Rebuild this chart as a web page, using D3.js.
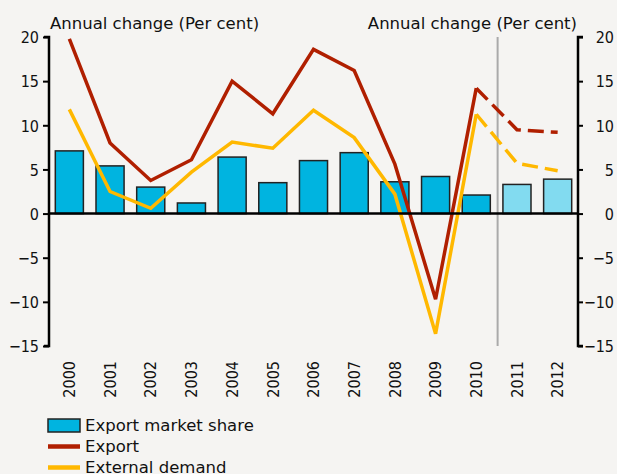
<!DOCTYPE html>
<html>
<head>
<meta charset="utf-8">
<script src="https://cdn.jsdelivr.net/npm/d3@7"></script>
<style>
  body { margin:0; background:#f5f4f2; }
  svg { display:block; font-family:"DejaVu Sans", sans-serif; }
  .num { font-family:"DejaVu Sans Condensed","DejaVu Sans",sans-serif; font-size:16px; fill:#111; }
</style>
</head>
<body>
<div id="chart"></div>
<script>
// data
var years=["2000","2001","2002","2003","2004","2005","2006","2007","2008","2009","2010","2011","2012"];
var marketShare=[7.1,5.4,3.0,1.2,6.4,3.5,6.0,6.9,3.6,4.2,2.1,3.3,3.9];
var exportGrowth=[19.8,8.0,3.75,6.1,15.0,11.3,18.6,16.2,5.6,-9.7,14.2,9.5,9.2];
var externalDemand=[11.8,2.5,0.6,4.7,8.1,7.4,11.7,8.6,2.2,-13.6,11.25,5.7,4.85];
var firstForecast="2011";
var yTicks=[-15,-10,-5,0,5,10,15,20];

var width=617, height=474;
var pLeft=49, pRight=578, pTop=37, pBottom=346;

var colBar="#00b4e0", colBarF="#82dbf0", colRed="#b01f00", colYel="#ffb800";

var svg=d3.select("#chart").append("svg")
    .attr("width",width)
    .attr("height",height);

svg.append("rect").attr("width",width).attr("height",height).attr("fill","#f5f4f2");

var x=d3.scaleBand().domain(years).range([pLeft,pRight]).paddingInner(0.31).paddingOuter(0.155);
var y=d3.scaleLinear().domain([-15,20]).range([pBottom,pTop]);
function cx(d){ return x(d)+x.bandwidth()/2; }

// bars
svg.append("g").selectAll("rect")
    .data(years)
    .enter()
    .append("rect")
    .attr("x",function(d){return x(d);})
    .attr("y",function(d,i){return y(Math.max(0,marketShare[i]));})
    .attr("width",x.bandwidth())
    .attr("height",function(d,i){return Math.abs(y(marketShare[i])-y(0));})
    .attr("fill",function(d){return (+d>=+firstForecast)?colBarF:colBar;})
    .attr("stroke","#222")
    .attr("stroke-width",1.5);

// forecast separator
var sepX=(cx("2010")+cx("2011"))/2+1;
svg.append("line")
    .attr("x1",sepX).attr("x2",sepX)
    .attr("y1",pTop).attr("y2",pBottom)
    .attr("stroke","#aaaaaa")
    .attr("stroke-width",2);

// lines
function drawSeries(vals,color){
    var pts=years.map(function(d,i){return [cx(d),y(vals[i])];});
    var cut=years.indexOf(firstForecast);
    var line=d3.line();
    svg.append("path")
        .attr("d",line(pts.slice(0,cut)))
        .attr("fill","none").attr("stroke",color)
        .attr("stroke-width",3.5).attr("stroke-linejoin","miter");
    svg.append("path")
        .attr("d",line(pts.slice(cut-1)))
        .attr("fill","none").attr("stroke",color)
        .attr("stroke-width",3.5)
        .attr("stroke-dasharray","16,7");
}
drawSeries(externalDemand,colYel);
drawSeries(exportGrowth,colRed);

// zero line
svg.append("line")
    .attr("x1",pLeft).attr("x2",pRight)
    .attr("y1",y(0)).attr("y2",y(0))
    .attr("stroke","#000").attr("stroke-width",2.5);

function fmt(d){ return d<0?"\u2212"+(-d):d; }

// left axis
var gl=svg.append("g")
    .attr("transform","translate("+pLeft+",0)")
    .call(d3.axisLeft(y).tickValues(yTicks).tickSize(6).tickPadding(4).tickFormat(fmt));
gl.select(".domain").attr("d","M-5,"+pTop+"H0V"+pBottom+"H-5").attr("stroke-width",2.5).attr("fill","none");
gl.selectAll(".tick line").attr("stroke-width",2);
gl.selectAll(".tick text").attr("class","num").attr("x",-10).attr("dy","0.36em");

// right axis
var gr=svg.append("g")
    .attr("transform","translate("+pRight+",0)")
    .call(d3.axisRight(y).tickValues(yTicks).tickSize(5).tickFormat(fmt));
gr.select(".domain").attr("d","M5,"+pTop+"H0V"+pBottom+"H5").attr("stroke-width",2.5).attr("fill","none");
gr.selectAll(".tick line").attr("stroke-width",2);
gr.selectAll(".tick text").attr("class","num").attr("x",36).attr("text-anchor","end").attr("dy","0.36em");
svg.selectAll(".domain").attr("stroke","#000");

// year labels
svg.append("g").selectAll("text")
    .data(years)
    .enter()
    .append("text")
    .attr("class","num")
    .attr("transform",function(d){return "translate("+cx(d)+",361) rotate(-90)";})
    .attr("text-anchor","end")
    .attr("dy","0.36em")
    .text(function(d){return d;});

// titles
svg.append("text").attr("x",50).attr("y",29)
    .attr("font-size","16.5px").attr("fill","#111")
    .text("Annual change (Per cent)");
svg.append("text").attr("x",577).attr("y",29).attr("text-anchor","end")
    .attr("font-size","16.5px").attr("fill","#111")
    .text("Annual change (Per cent)");

// legend
var legend=[
    {name:"Export market share",type:"bar",color:colBar},
    {name:"Export",type:"line",color:colRed},
    {name:"External demand",type:"line",color:colYel}
];
var lg=svg.append("g").selectAll("g")
    .data(legend)
    .enter()
    .append("g")
    .attr("transform",function(d,i){return "translate(48,"+(425.5+i*21)+")";});
lg.each(function(d){
    var g=d3.select(this);
    if (d.type=="bar"){
        g.append("rect").attr("x",0).attr("y",-6.5).attr("width",32).attr("height",13)
            .attr("fill",d.color).attr("stroke","#222").attr("stroke-width",1.5);
    }
    else {
        g.append("line").attr("x1",0).attr("x2",32).attr("y1",0).attr("y2",0)
            .attr("stroke",d.color).attr("stroke-width",4.5);
    }
});
lg.append("text")
    .attr("x",37).attr("y",5.5)
    .attr("font-size","16.5px").attr("fill","#111")
    .text(function(d){return d.name;});
</script>
</body>
</html>
